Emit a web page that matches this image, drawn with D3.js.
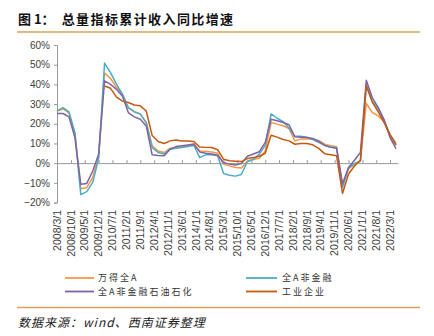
<!DOCTYPE html>
<html><head><meta charset="utf-8">
<script src="https://cdn.jsdelivr.net/npm/d3@7"></script>
<style>body{margin:0;background:#fff}svg{display:block}</style>
</head><body><svg id="c" width="434" height="336"></svg>
<script>
const tickLabels = ["2008/3/1","2008/10/1","2009/5/1","2009/12/1","2010/7/1","2011/2/1","2011/9/1","2012/4/1","2012/11/1","2013/6/1","2014/1/1","2014/8/1","2015/3/1","2015/10/1","2016/5/1","2016/12/1","2017/7/1","2018/2/1","2018/9/1","2019/4/1","2019/11/1","2020/6/1","2021/1/1","2021/8/1","2022/3/1"];
const yTicks = [-20,-10,0,10,20,30,40,50,60];
const seriesNames = ["万得全A","全A非金融","全A非金融石油石化","工业企业"];
const seriesColors = ["#F79646","#4BACC6","#8064A2","#C65911"];
// quarterly, 2008/3 .. 2022/6
const wandeA = [26.5,27.5,25.5,15,-13,-12.5,-7.3,3.8, 45.7,43,38.5,35,28,26.3,25,20.5, 8.8,6.2,5.4,7.6,7.8,8.3,9.0,9.8, 6.2,6.0,5.7,5.0,-0.5,-1.4,-2.2,-2.5, 1.0,2.0,2.5,6.2,20.6,19.8,19,17.5, 11.3,12.2,12.2,12.2,11.5,9.6,8.8,8.3, -11.5,-3,-0.5,1.2,30.3,25.7,24,21, 13.5,9];
const feiJinRong = [26.5,28.2,26,15.5,-16,-14.5,-9.8,2.5, 50.8,46,40,35,28.2,26,24.9,20.6, 7.9,5.4,4.6,7.1,7.6,7.9,8.5,9.1, 2.8,4.2,4.2,3.7,-5.2,-6.2,-6.6,-5.8, 0.8,1.8,4.6,9.0,25,22.8,21.1,17.8, 13.6,13.6,13.2,12,10.5,9,8.2,7.8, -12.4,-2.5,-0.2,0.9,40,31.5,27.5,21.5, 14.5,10];
const feiJinRongShiYou = [25.2,25.2,23.5,13,-10.7,-10.3,-4,4.7, 41.8,40,37.5,34,25.7,23.5,22.3,18.9, 4.2,3.9,3.7,7.0,8.4,8.8,9.2,9.6, 5.7,5.0,4.6,4.0,0.3,-0.5,-0.9,-0.2, 3.5,4.6,5.8,10.5,22.3,21.5,20.6,19.5, 13.4,13.2,13,12.5,11,9.0,8,7.6, -10.5,-2.2,1.5,5.4,42.1,33.3,28.2,22, 13,7.3];
const gongYe = [null,null,null,null,null,null,null,null, 39.2,38,33.5,31.5,30.8,29.5,29.1,26.5, 14,11,10,11.3,11.8,11.2,11.2,11.0, 8.2,8.0,7.9,6.8,2.0,1.2,1.0,0.8, 2.3,2.8,3.5,5.0,14.2,13.2,12,11.3, 9.6,10,10,9.3,7.5,4.8,4.3,3.8, -15.4,-5.5,-1.5,1.5,39.2,31,26,20.5, 14.5,9.3];

const quarters = d3.timeMonth.range(new Date(2008,2,1), new Date(2022,6,1), 3);
const parse = d3.timeParse("%Y/%m/%d");
const svg = d3.select("#c");
const x = d3.scaleTime().domain([new Date(2008,2,1), new Date(2022,6,1)]).range([57,398]);
const y = d3.scaleLinear().domain([-20,60]).range([202.5,45]);
const latin = "'Liberation Sans', Arial, sans-serif";
const cjk = "'Noto Sans CJK SC', sans-serif";

// title
svg.append("text").attr("x",18).attr("y",24)
  .attr("font-family",cjk).attr("font-weight",700).attr("font-size",13)
  .attr("fill","#111").text("图 1：");
svg.append("text").attr("x",61.7).attr("y",24)
  .attr("font-family",cjk).attr("font-weight",700).attr("font-size",13)
  .attr("letter-spacing",1.4).attr("fill","#111")
  .text("总量指标累计收入同比增速");
svg.append("line").attr("x1",17).attr("x2",420).attr("y1",32).attr("y2",32)
  .attr("stroke","#D6A25C").attr("stroke-width",1.5);
svg.append("line").attr("x1",17).attr("x2",420).attr("y1",307.5).attr("y2",307.5)
  .attr("stroke","#D6A25C").attr("stroke-width",1.5);

// y axis
const ya = svg.append("g").attr("transform","translate(57,0)")
  .call(d3.axisLeft(y).tickValues(yTicks).tickSize(3).tickPadding(4).tickFormat(d => d3.format("d")(d) + "%"));
ya.select(".domain").attr("stroke","#999");
ya.selectAll(".tick line").attr("stroke","#999");
ya.selectAll("text").attr("font-family",latin).attr("font-size",10).attr("fill","#404040");

// x axis at zero
const xa = svg.append("g").attr("transform",`translate(0,${y(0)})`)
  .call(d3.axisTop(x).tickValues(tickLabels.map(parse)).tickSizeInner(3).tickSizeOuter(0).tickFormat(""));
xa.select(".domain").attr("stroke","#999");
xa.selectAll(".tick line").attr("stroke","#999");

// x labels
svg.append("g").selectAll("text").data(tickLabels).join("text")
  .attr("transform", d => `translate(${x(parse(d))},210) rotate(-90)`)
  .attr("text-anchor","end").attr("dy","0.35em")
  .attr("font-family",latin).attr("font-size",10.5).attr("fill","#404040")
  .text(d => d);

// lines
const allSeries = [wandeA, feiJinRong, feiJinRongShiYou, gongYe];
const line = d3.line().defined(d => d[1] !== null).x(d => x(d[0])).y(d => y(d[1]));
allSeries.forEach((s,k) => {
  svg.append("path").datum(quarters.map((q,i) => [q, s[i]]))
    .attr("d", line).attr("fill","none").attr("stroke",seriesColors[k])
    .attr("stroke-width",1.5).attr("stroke-linejoin","round");
});

// legend
const legPos = [[65,278],[246,278],[65,291.5],[246,291.5]];
seriesNames.forEach((n,k) => {
  const [lx,ly] = legPos[k];
  svg.append("line").attr("x1",lx).attr("x2",k%2?277:94).attr("y1",ly).attr("y2",ly)
    .attr("stroke",seriesColors[k]).attr("stroke-width",1.8);
  svg.append("text").attr("x",(k%2?282:98)).attr("y",ly).attr("dy","0.35em")
    .attr("font-family",cjk).attr("font-size",9).attr("letter-spacing",2).attr("fill","#333")
    .text(n);
});

// source
svg.append("text").attr("x",18).attr("y",327)
  .attr("font-family",cjk).attr("font-size",12).attr("font-style","italic")
  .attr("letter-spacing",1).attr("fill","#222")
  .text("数据来源：wind、西南证券整理");
</script></body></html>
